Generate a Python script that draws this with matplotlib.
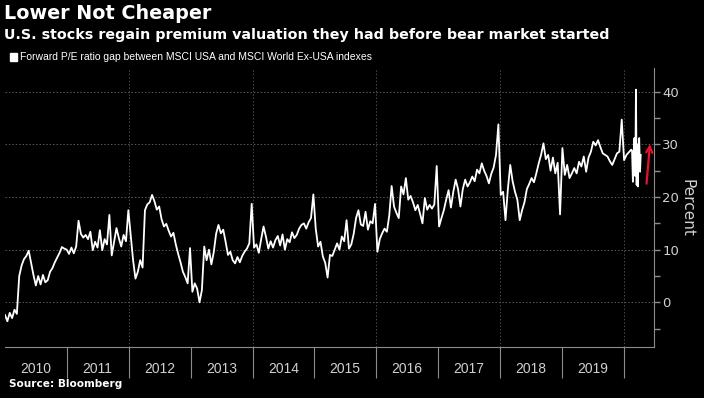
import matplotlib
matplotlib.use("Agg")
import matplotlib.pyplot as plt
from matplotlib.patches import Rectangle
import pandas as pd

# Forward P/E gap (%), one value every 14 days from 2010-01-01, one row per year
gap_values = [
    # 2010
    -2.4, -3.6, -2.0, -3.0, -1.4, -2.2, 5.0, 7.0, 8.2, 8.8, 9.8, 7.5, 5.2,
    3.2, 5.0, 3.4, 5.2, 3.8, 4.2, 5.8, 6.5, 7.6, 8.5, 9.4, 10.5, 10.2,
    # 2011
    10.0, 9.2, 10.4, 9.3, 10.6, 15.5, 13.0, 12.3, 12.8, 12.0, 13.4, 9.9, 11.5,
    10.4, 13.7, 9.9, 12.0, 11.0, 16.6, 8.9, 11.5, 14.1, 12.2, 10.6, 12.8, 11.6,
    # 2012
    17.5, 12.7, 8.0, 4.5, 5.8, 8.0, 6.6, 17.5, 18.6, 19.0, 20.4, 19.2, 17.6,
    18.2, 15.8, 14.4, 14.9, 13.6, 12.5, 13.2, 11.0, 9.2, 7.6, 5.8, 4.8, 3.6,
    # 2013
    10.3, 2.0, 3.6, 2.6, 0.0, 2.3, 10.6, 8.0, 10.0, 7.2, 9.5, 13.0, 14.7,
    13.1, 13.8, 11.5, 9.0, 9.6, 8.0, 7.4, 8.6, 7.6, 8.8, 9.6, 10.2, 11.2,
    # 2014
    18.7, 10.4, 11.0, 9.4, 12.0, 14.4, 12.5, 10.2, 11.6, 10.4, 11.8, 12.6, 10.8,
    12.9, 10.0, 12.0, 11.4, 13.3, 12.2, 12.8, 14.0, 14.7, 15.0, 14.0, 15.2, 16.0,
    # 2015
    20.5, 14.0, 10.6, 11.5, 8.7, 7.5, 4.7, 9.0, 8.8, 10.0, 11.2, 10.0, 12.5,
    11.6, 15.6, 10.2, 11.0, 13.0, 16.0, 17.5, 14.8, 14.5, 17.2, 13.8, 15.4, 15.0,
    # 2016
    18.7, 9.6, 12.0, 13.1, 14.0, 13.4, 16.5, 22.1, 18.2, 17.0, 16.0, 22.0, 20.5,
    23.6, 19.5, 20.2, 19.0, 17.5, 18.5, 16.8, 15.0, 19.8, 17.6, 18.5, 17.8, 18.6,
    # 2017
    25.9, 14.4, 16.0, 17.5, 19.5, 21.3, 18.0, 21.0, 23.3, 21.5, 18.2, 21.5, 23.3,
    22.0, 22.8, 23.9, 23.0, 25.2, 24.5, 26.4, 25.0, 24.0, 22.6, 24.4, 25.6, 28.0,
    # 2018
    33.8, 20.4, 21.0, 15.6, 21.5, 26.1, 23.0, 21.0, 19.5, 15.6, 17.5, 19.0, 21.5,
    22.5, 23.6, 22.8, 24.5, 26.4, 28.0, 30.2, 27.2, 28.0, 25.0, 27.5, 24.5, 26.5,
    # 2019
    16.7, 29.3, 24.2, 26.1, 23.6, 24.5, 25.5, 24.5, 26.7, 25.8, 27.7, 24.8, 27.5,
    28.6, 30.5, 29.8, 30.8, 29.5, 28.3, 28.0, 27.7, 26.8, 26.1, 27.2, 28.3, 28.6,
    # 2020 (to mid-Feb)
    34.7, 27.0, 28.0, 28.5, 29.0,
]

# the sell-off weeks, read at a finer spacing
late_dates = ["2020-02-19", "2020-02-24", "2020-02-28", "2020-03-04", "2020-03-09",
              "2020-03-13", "2020-03-17", "2020-03-20", "2020-03-24", "2020-03-27",
              "2020-04-01", "2020-04-06", "2020-04-10"]
late_values = [28.8, 22.9, 26.0, 31.2, 24.0, 40.4, 22.3, 30.0, 22.0, 27.0, 31.2, 24.8, 28.0]

years = list(range(2010, 2020))
y_ticks = [0, 10, 20, 30, 40]

dates = pd.date_range("2010-01-01", periods=len(gap_values), freq="14D")
dates = dates.append(pd.to_datetime(late_dates))
values = gap_values + late_values

narrow = ["Liberation Sans", "DejaVu Sans"]
grey = "#8c8c8c"
light = "#d0d0d0"

fig = plt.figure(figsize=(7.04, 3.98), dpi=100, facecolor="black")
ax = fig.add_axes([0.0071, 0.128, 0.922, 0.701])
ax.set_facecolor("black")

ax.plot(dates, values, color="white", lw=1.3, zorder=3)

ax.set_xlim(pd.Timestamp("2010-01-01"), pd.Timestamp("2020-06-28"))
ax.set_ylim(-8.5, 44.5)

# gridlines
for v in y_ticks:
    ax.axhline(v, color="#5a5a5a", lw=0.7, ls=(0, (1.5, 2)), zorder=1)
for yr in [2012, 2014, 2016, 2018, 2020]:
    ax.axvline(pd.Timestamp(f"{yr}-01-01"), color="#4a4a4a", lw=0.7, ls=(0, (1.5, 2)), zorder=1)

# spines
for s in ["top", "left"]:
    ax.spines[s].set_visible(False)
ax.spines["right"].set_color(grey)
ax.spines["bottom"].set_color(grey)

# y axis on the right
ax.yaxis.tick_right()
ax.set_yticks(y_ticks)
ax.set_yticks([-5, 5, 15, 25, 35], minor=True)
ax.tick_params(axis="y", which="both", colors=grey, length=4, width=1, labelcolor=light,
               labelsize=9.5, pad=2)
ax.yaxis.set_label_position("right")
ax.set_ylabel("Percent", color=light, fontsize=11, rotation=270, labelpad=11)

# x axis: year separators + centred labels
ax.set_xticks([pd.Timestamp(f"{y + 1}-01-01") for y in years])
ax.set_xticklabels([])
ax.set_xticks([pd.Timestamp(f"{y}-07-02") for y in years], minor=True)
ax.set_xticklabels([str(y) for y in years], minor=True)
ax.tick_params(axis="x", which="major", colors=grey, length=22, width=0.8)
ax.tick_params(axis="x", which="minor", length=0, labelcolor=light, labelsize=10, pad=11)
for lab in ax.get_xticklabels(minor=True):
    lab.set_family(narrow)

# red arrow
ax.annotate("", xy=(pd.Timestamp("2020-06-05"), 30.6), xytext=(pd.Timestamp("2020-05-13"), 22.0),
            arrowprops=dict(arrowstyle="->", color="#e8102a", lw=1.6, mutation_scale=11),
            annotation_clip=False, zorder=4)

# titles
fig.text(0.006, 0.965, "Lower Not Cheaper", color="white", fontsize=13.8,
         fontweight="bold", va="center", ha="left")
fig.text(0.006, 0.912, "U.S. stocks regain premium valuation they had before bear market started",
         color="white", fontsize=10.3, fontweight="bold", va="center", ha="left")
fig.patches.append(Rectangle((10 / 704, 1 - 61 / 398), 7 / 704, 8 / 398,
                             transform=fig.transFigure, color="white", figure=fig))
fig.text(20 / 704, 1 - 57.5 / 398, "Forward P/E ratio gap between MSCI USA and MSCI World Ex-USA indexes",
         color="white", fontsize=7.5, family=narrow, va="center", ha="left")
fig.text(9 / 704, 1 - 384 / 398, "Source: Bloomberg", color="white", fontsize=7.6,
         fontweight="bold", va="center", ha="left")

fig.savefig("out.png", dpi=100, facecolor="black")
